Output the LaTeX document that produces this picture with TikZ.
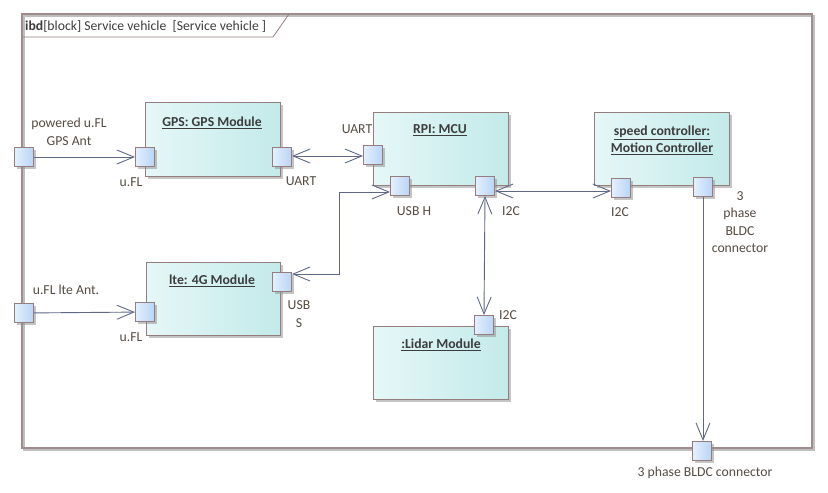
\documentclass[tikz,border=0pt]{standalone}
\usepackage{fontspec}
\setmainfont{Carlito}
\usetikzlibrary{arrows.meta,shadows,calc}
\definecolor{bordc}{RGB}{150,125,125}
\definecolor{framec}{RGB}{160,140,140}
\definecolor{linec}{RGB}{95,105,135}
\definecolor{txtc}{RGB}{60,60,60}
\definecolor{lblc}{RGB}{85,75,65}
\definecolor{blkL}{RGB}{230,247,247}
\definecolor{blkR}{RGB}{195,234,234}
\definecolor{prtL}{RGB}{228,240,253}
\definecolor{prtR}{RGB}{185,212,245}
\begin{document}
\begin{tikzpicture}[x=1pt,y=-1pt,font=\fontsize{13.7}{17.5}\selectfont,
  blk/.style={draw=bordc,line width=0.9pt,left color=blkL,right color=blkR,inner sep=0pt,
    drop shadow={shadow xshift=3pt,shadow yshift=-3pt,fill=black!45,opacity=0.5}},
  prt/.style={draw=bordc,line width=0.9pt,left color=prtL,right color=prtR,minimum size=19pt,inner sep=0pt,
    drop shadow={shadow xshift=2.5pt,shadow yshift=-2.5pt,fill=black!45,opacity=0.5}},
  ttl/.style={font=\fontsize{13.7}{17}\selectfont\bfseries,text=txtc,align=center},
  lbl/.style={text=lblc,align=center,inner sep=1pt},
  conn/.style={draw=linec,line width=0.9pt},
  arr/.tip={Straight Barb[length=17pt,width=14pt,line width=0.9pt]}]
\useasboundingbox (0,0) rectangle (828,493);
% frame
\draw[black!25,line width=1.4pt] (24,16) rectangle (814,450);
\draw[framec,line width=1.4pt] (22,14) rectangle (812,448);
\draw[bordc,line width=0.8pt] (22,37) -- (273,37) -- (289,14);
\node[anchor=west,text=txtc,inner sep=0pt] (title) at (25,26) {\textbf{ibd}[block] Service vehicle~~[Service vehicle ]};
% blocks
\node[blk,minimum width=135pt,minimum height=74pt] (gps) at (212.5,139) {};
\node[blk,minimum width=135pt,minimum height=73pt] (rpi) at (440.5,148.5) {};
\node[blk,minimum width=135pt,minimum height=73pt] (spd) at (661.5,148.5) {};
\node[blk,minimum width=134pt,minimum height=73pt] (lte) at (213,298.5) {};
\node[blk,minimum width=135pt,minimum height=73pt] (lidar) at (440.5,362.5) {};
\node[ttl] (gpst) at (212,123) {\underline{GPS: GPS Module}};
\node[ttl] (rpit) at (440,130) {\underline{RPI: MCU}};
\node[ttl] (spdt) at (662,140) {\underline{speed controller:}\\\underline{Motion Controller}};
\node[ttl] (ltet) at (212,281) {\underline{lte: 4G Module}};
\node[ttl] (lidart) at (441,345) {\underline{:Lidar Module}};
% ports
\node[prt] (fp1) at (24,157) {};
\node[prt] (fp2) at (24,313) {};
\node[prt] (fp3) at (702,451) {};
\node[prt] (gpsufl) at (145,157) {};
\node[prt] (gpsuart) at (282,157) {};
\node[prt] (rpiuart) at (373,155) {};
\node[prt] (usbh) at (400,186) {};
\node[prt] (rpii2c) at (485,186) {};
\node[prt] (spdi2c) at (621,188) {};
\node[prt] (spd3p) at (703,187) {};
\node[prt] (lidari2c) at (484,325) {};
\node[prt] (lteufl) at (145,312) {};
\node[prt] (lteusb) at (282,282) {};
% connector helpers
\coordinate (usbA) at (339,274);
\coordinate (usbB) at (339,192);
\coordinate (i2cy) at (550,191);
\coordinate (uarty) at (330,156);
% connectors
\draw[conn,-{arr}] (fp1) -- (gpsufl);
\draw[conn,{arr}-{arr}] (gpsuart.east |- uarty) -- (rpiuart.west |- uarty);
\draw[conn,{arr}-{arr}] (lteusb.east |- usbA) -- (usbA) -- (usbB) -- (usbh.west |- usbB);
\draw[conn,{arr}-{arr}] (rpii2c.east |- i2cy) -- (spdi2c.west |- i2cy);
\draw[conn,{arr}-{arr}] (rpii2c.south) -- (lidari2c.north);
\draw[conn,-{arr}] (fp2) -- (lteufl);
\draw[conn,-{arr}] (spd3p.south) -- (fp3.north -| spd3p.south);
% labels
\node[lbl] (l1) at (69,132) {powered u.FL\\GPS Ant};
\node[lbl] (l2) at (131,182) {u.FL};
\node[lbl] (l3) at (301,181) {UART};
\node[lbl] (l4) at (357,129) {UART};
\node[lbl] (l5) at (414,211) {USB H};
\node[lbl] (l6) at (511,211) {I2C};
\node[lbl] (l7) at (620,212) {I2C};
\node[lbl] (l8) at (740,222) {3\\phase\\BLDC\\connector};
\node[lbl] (l9) at (66,290) {u.FL lte Ant.};
\node[lbl] (l10) at (131,337) {u.FL};
\node[lbl] (l11) at (299,314) {USB\\S};
\node[lbl] (l12) at (508,315) {I2C};
\node[lbl] (l13) at (705,473) {3 phase BLDC connector};
\end{tikzpicture}
\end{document}
